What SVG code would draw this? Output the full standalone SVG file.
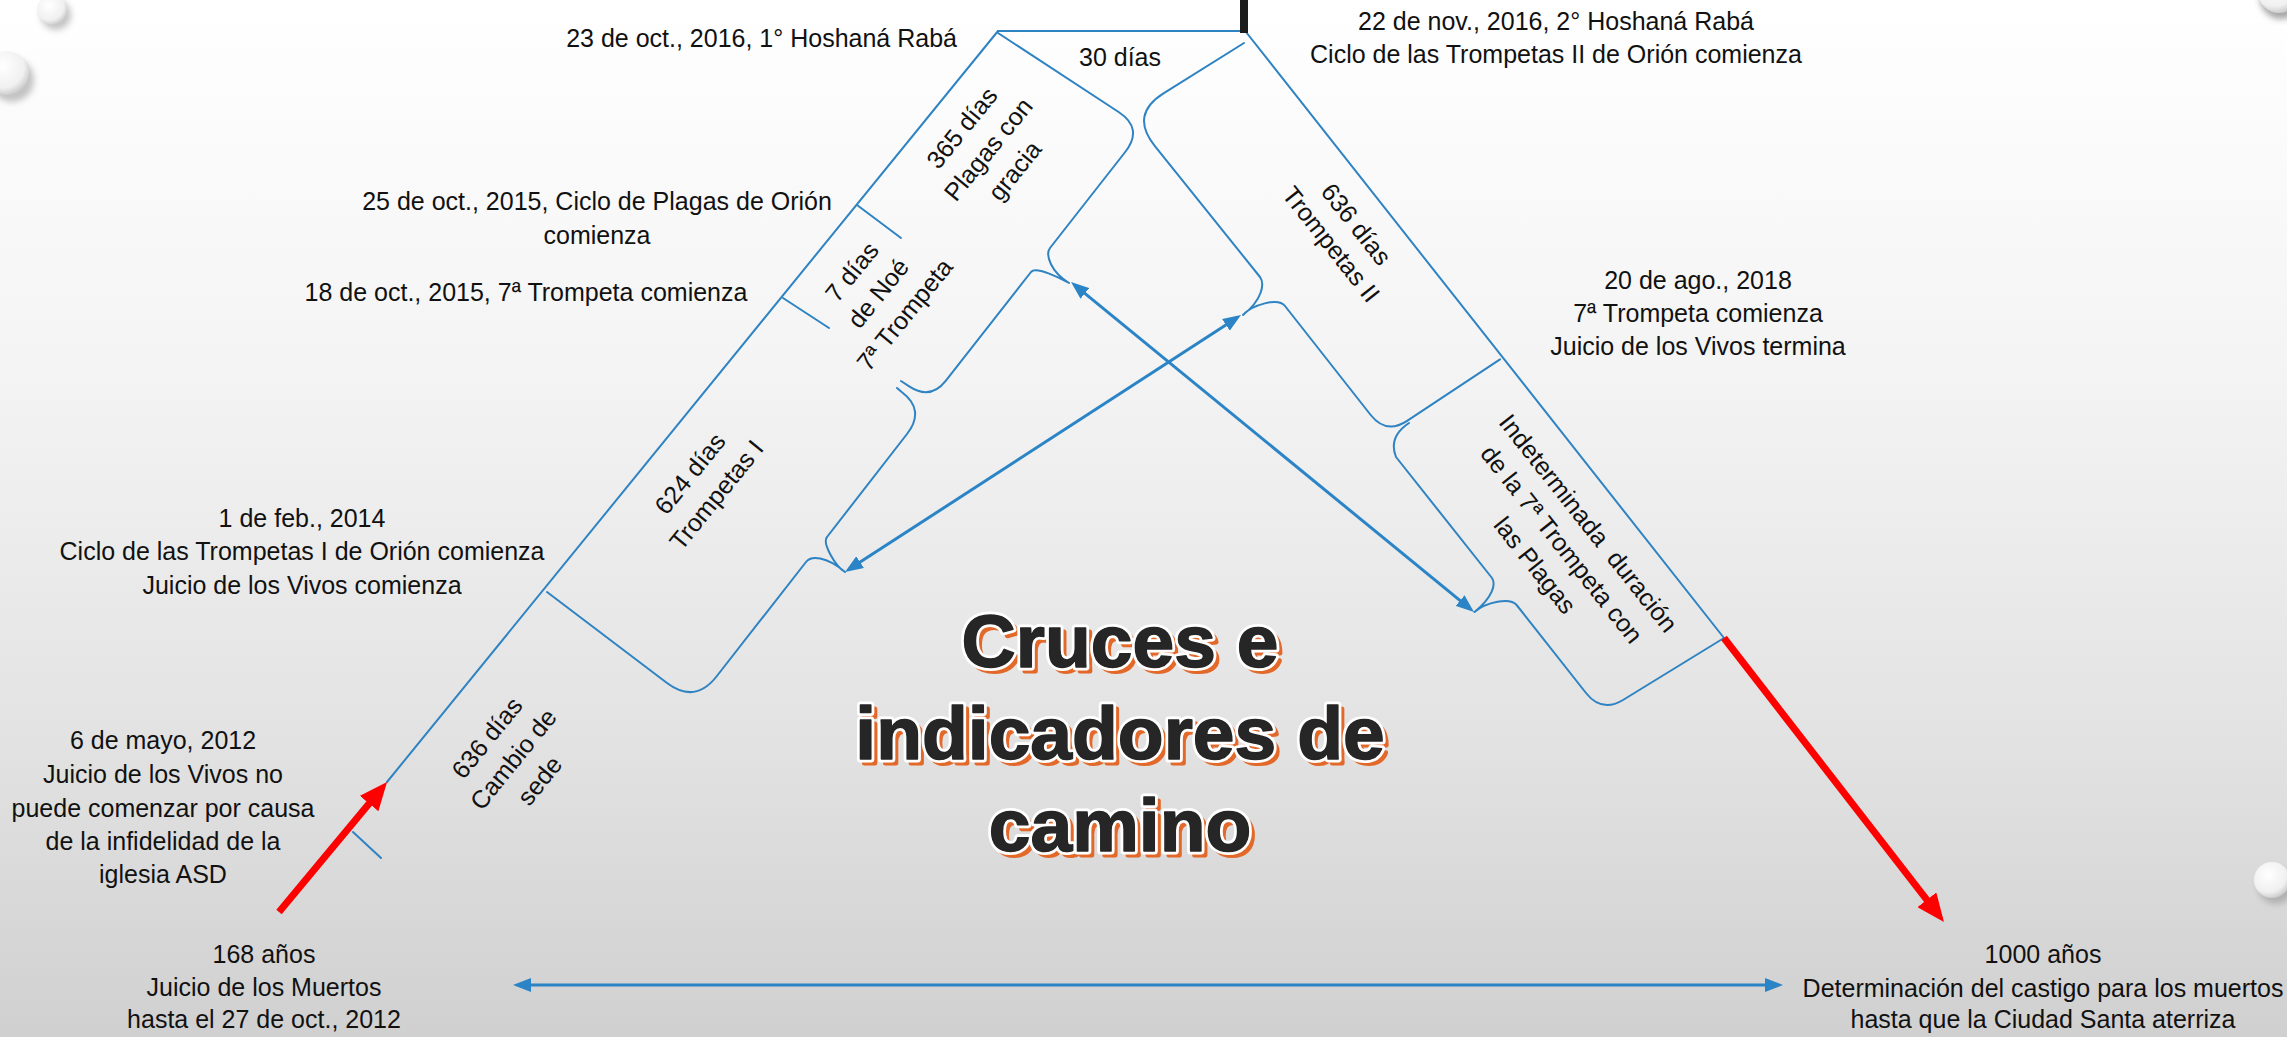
<svg xmlns="http://www.w3.org/2000/svg" width="2287" height="1037" viewBox="0 0 2287 1037">
<defs>
<style>
.lbl{font-family:"Liberation Sans",Arial,sans-serif;font-size:25px;fill:#111111}
.mid{text-anchor:middle}
.ln{fill:none;stroke:#2e83c2;stroke-width:2;stroke-linejoin:round;stroke-linecap:round}
.arr{fill:none;stroke:#2a84c6;stroke-width:3}
.red{fill:none;stroke:#ff0000;stroke-width:7}
.ttl{font-family:"Liberation Sans",Arial,sans-serif;font-weight:bold;font-size:75px;text-anchor:middle}
.tsh{fill:#e2692a;stroke:#e2692a;stroke-width:5;stroke-linejoin:round}
.tmain{fill:#262626;stroke:#ffffff;stroke-width:7;stroke-linejoin:round;paint-order:stroke}
.tfill{fill:#262626;stroke:#262626;stroke-width:1.5;stroke-linejoin:round}
</style>
<linearGradient id="bg" x1="0" y1="0" x2="0" y2="1">
<stop offset="0" stop-color="#ffffff"/>
<stop offset="0.35" stop-color="#f4f4f4"/>
<stop offset="0.7" stop-color="#e3e3e3"/>
<stop offset="1" stop-color="#d0d0d0"/>
</linearGradient>
<radialGradient id="drop" cx="0.4" cy="0.35" r="0.7">
<stop offset="0" stop-color="#ffffff"/>
<stop offset="0.7" stop-color="#f0f0f0"/>
<stop offset="1" stop-color="#c4c4c4"/>
</radialGradient>
<filter id="blur" x="-50%" y="-50%" width="200%" height="200%"><feGaussianBlur stdDeviation="3"/></filter>
<marker id="ahb" markerUnits="userSpaceOnUse" viewBox="0 0 18 14" markerWidth="18" markerHeight="14" refX="10" refY="7" orient="auto-start-reverse">
<path d="M0,0 L18,7 L0,14 z" fill="#2a84c6"/>
</marker>
<marker id="ahr" markerUnits="userSpaceOnUse" viewBox="0 0 28 24" markerWidth="28" markerHeight="24" refX="14" refY="12" orient="auto">
<path d="M0,0 L28,12 L0,24 z" fill="#ff0000"/>
</marker>
</defs>

<g id="background">
<rect x="0" y="0" width="2287" height="1037" fill="url(#bg)"/>
<circle cx="56" cy="15" r="15" fill="#8a8a8a" opacity="0.5" filter="url(#blur)"/>
<circle cx="52" cy="10" r="15" fill="url(#drop)"/>
<circle cx="12" cy="80" r="22" fill="#8a8a8a" opacity="0.5" filter="url(#blur)"/>
<circle cx="7" cy="73" r="22" fill="url(#drop)"/>
<circle cx="2281" cy="-2" r="21" fill="#6a6a6a" opacity="0.6" filter="url(#blur)"/>
<circle cx="2279" cy="-8" r="21" fill="url(#drop)"/>
<circle cx="2276" cy="886" r="18" fill="#8a8a8a" opacity="0.5" filter="url(#blur)"/>
<circle cx="2272" cy="880" r="18" fill="url(#drop)"/>
</g>

<g id="timeline">
<path class="ln" d="M998,31 L387,782"/>
<path class="ln" d="M998,31 L1244,31"/>
<path class="ln" d="M1246,32 L1724,638"/>
<rect x="1240" y="0" width="8" height="33" fill="#1c1c1c"/>
<path class="ln" d="M857,205 L901,238"/>
<path class="ln" d="M783,298 L829,328"/>
<path class="ln" d="M353,832 L381,858"/>
</g>

<g id="brace-365">
<path class="ln" d="M998,33 L1118.6,112 Q1143.7,128.4 1125.2,152 L1050,248 C1045,255 1051,272 1069,283 C1060,278 1036,266 1031,272 L945.9,380.6 Q930.5,400.3 909.6,386.6 L901,381"/>
<text class="lbl mid" transform="translate(988,149) rotate(-51)"><tspan x="0" y="-25">365 días</tspan><tspan x="0" y="9">Plagas con</tspan><tspan x="0" y="43">gracia</tspan></text>
</g>

<g id="brace-7dias">
<text class="lbl mid" transform="translate(878,293) rotate(-51)"><tspan x="0" y="-25">7 días</tspan><tspan x="0" y="9">de Noé</tspan><tspan x="0" y="43">7ª Trompeta</tspan></text>
</g>

<g id="brace-624">
<path class="ln" d="M547,592 L667,683 Q695,704 716.5,676.5 L806,562 C811,555.6 826,556 845,572 C835,566 822,543 827,537 L907,434 Q925.6,410 901.7,392 L897,388"/>
<text class="lbl mid" transform="translate(703,484) rotate(-51)"><tspan x="0" y="-8">624 días</tspan><tspan x="0" y="26">Trompetas I</tspan></text>
</g>

<g id="brace-636-sede">
<text class="lbl mid" transform="translate(513,759) rotate(-51)"><tspan x="0" y="-25">636 días</tspan><tspan x="0" y="9">Cambio de</tspan><tspan x="0" y="43">sede</tspan></text>
</g>

<g id="brace-30dias">
<text class="lbl mid" x="1120" y="66">30 días</text>
</g>

<g id="brace-636-II">
<path class="ln" d="M1244,43 L1163.5,93.3 Q1129.6,114.6 1154.7,145.8 L1260,277 C1265,284 1262,300 1243,315 C1252,305 1278,297 1285,306 L1370.7,415 Q1386.2,434.6 1407.1,420.8 L1500,359.3"/>
<text class="lbl mid" transform="translate(1344,234) rotate(51.6)"><tspan x="0" y="-7">636 días</tspan><tspan x="0" y="25">Trompetas II</tspan></text>
</g>

<g id="brace-indeterminada">
<path class="ln" d="M1409,423 Q1388,437 1396,457 L1492,578 C1496,584 1493,597 1474.5,612 C1486,602 1510,597 1516.6,605 L1586,693 Q1601.6,712.8 1623,700 L1724,638"/>
<text class="lbl mid" transform="translate(1562,544) rotate(51.6)" xml:space="preserve" style="white-space:pre"><tspan x="0" y="-25">Indeterminada  duración</tspan><tspan x="0" y="9">de la 7ª Trompeta con</tspan><tspan x="0" y="43">las Plagas</tspan></text>
</g>

<g id="label-23oct2016">
<text class="lbl" x="957" y="47" text-anchor="end">23 de oct., 2016, 1° Hoshaná Rabá</text>
</g>
<g id="label-22nov2016">
<text class="lbl mid" x="1556" y="30">22 de nov., 2016, 2° Hoshaná Rabá</text>
<text class="lbl mid" x="1556" y="63">Ciclo de las Trompetas II de Orión comienza</text>
</g>
<g id="label-25oct2015">
<text class="lbl mid" x="597" y="210">25 de oct., 2015, Ciclo de Plagas de Orión</text>
<text class="lbl mid" x="597" y="244">comienza</text>
</g>
<g id="label-18oct2015">
<text class="lbl mid" x="526" y="301">18 de oct., 2015, 7ª Trompeta comienza</text>
</g>
<g id="label-20ago2018">
<text class="lbl mid" x="1698" y="289">20 de ago., 2018</text>
<text class="lbl mid" x="1698" y="322">7ª Trompeta comienza</text>
<text class="lbl mid" x="1698" y="355">Juicio de los Vivos termina</text>
</g>
<g id="label-1feb2014">
<text class="lbl mid" x="302" y="527">1 de feb., 2014</text>
<text class="lbl mid" x="302" y="560">Ciclo de las Trompetas I de Orión comienza</text>
<text class="lbl mid" x="302" y="594">Juicio de los Vivos comienza</text>
</g>
<g id="label-6mayo2012">
<text class="lbl mid" x="163" y="749">6 de mayo, 2012</text>
<text class="lbl mid" x="163" y="783">Juicio de los Vivos no</text>
<text class="lbl mid" x="163" y="817">puede comenzar por causa</text>
<text class="lbl mid" x="163" y="850">de la infidelidad de la</text>
<text class="lbl mid" x="163" y="883">iglesia ASD</text>
</g>
<g id="label-168anos">
<text class="lbl mid" x="264" y="963">168 años</text>
<text class="lbl mid" x="264" y="996">Juicio de los Muertos</text>
<text class="lbl mid" x="264" y="1028">hasta el 27 de oct., 2012</text>
</g>
<g id="label-1000anos">
<text class="lbl mid" x="2043" y="963">1000 años</text>
<text class="lbl mid" x="2043" y="997">Determinación del castigo para los muertos</text>
<text class="lbl mid" x="2043" y="1028">hasta que la Ciudad Santa aterriza</text>
</g>

<g id="connectors">
<line class="arr" x1="1077.2" y1="287.1" x2="1467.8" y2="606.9" marker-start="url(#ahb)" marker-end="url(#ahb)"/>
<line class="arr" x1="851.7" y1="567.6" x2="1234.3" y2="319.4" marker-start="url(#ahb)" marker-end="url(#ahb)"/>
<line class="arr" x1="521" y1="985" x2="1775" y2="985" marker-start="url(#ahb)" marker-end="url(#ahb)"/>
<line class="red" x1="279" y1="912" x2="378.1" y2="792.8" marker-end="url(#ahr)"/>
<line class="red" x1="1724" y1="638" x2="1935.4" y2="910.9" marker-end="url(#ahr)"/>
</g>

<g id="title" class="ttl">
<text class="tsh" x="1124" y="671">Cruces e</text>
<text class="tsh" x="1124" y="763">indicadores de</text>
<text class="tsh" x="1124" y="855">camino</text>
<text class="tmain" x="1120" y="667">Cruces e</text>
<text class="tmain" x="1120" y="759">indicadores de</text>
<text class="tmain" x="1120" y="851">camino</text>
<text class="tfill" x="1120" y="667">Cruces e</text>
<text class="tfill" x="1120" y="759">indicadores de</text>
<text class="tfill" x="1120" y="851">camino</text>
</g>
</svg>
